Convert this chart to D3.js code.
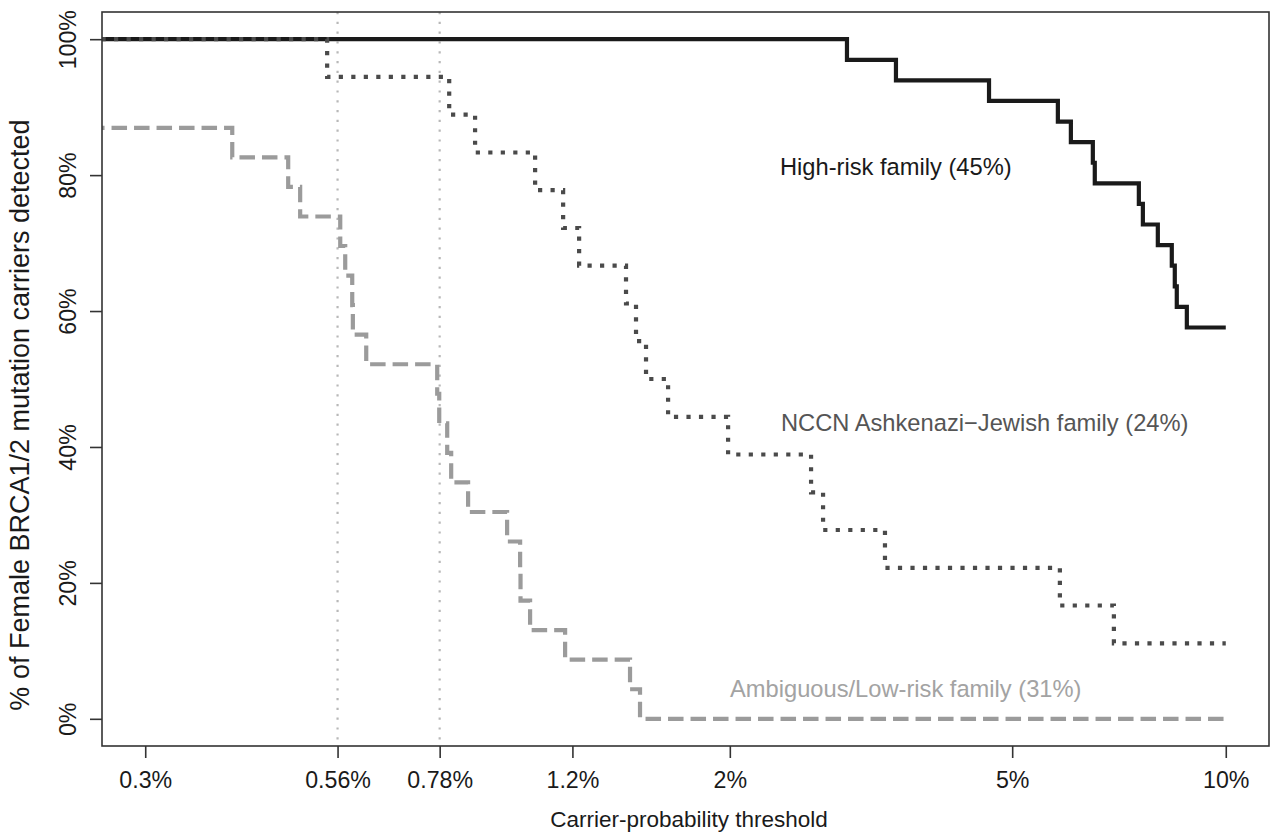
<!DOCTYPE html>
<html>
<head>
<meta charset="utf-8">
<script src="https://cdn.jsdelivr.net/npm/d3@7"></script>
<style>
  html, body { margin: 0; padding: 0; background: #fff; }
  svg { display: block; }
  text { font-family: "Liberation Sans", Arial, Helvetica, sans-serif; }
</style>
</head>
<body>
<svg id="chart" width="1271" height="839"></svg>
<script>
// ---------- data ----------
const xTicks = [0.3, 0.56, 0.78, 1.2, 2, 5, 10];
const xTickLabels = ["0.3%", "0.56%", "0.78%", "1.2%", "2%", "5%", "10%"];
const yTicks = [0, 20, 40, 60, 80, 100];
const yTickLabels = ["0%", "20%", "40%", "60%", "80%", "100%"];
const refLines = [0.56, 0.78];

// High-risk family (45%) : threshold (%) -> % detected
const highX = [0.25, 2.925, 3.429, 4.638, 5.799, 6.049, 6.496, 6.537, 7.542, 7.641, 8.021, 8.393, 8.475, 8.530, 8.813, 10];
const highY = [100, 96.97, 93.94, 90.91, 87.88, 84.85, 81.82, 78.79, 75.76, 72.73, 69.70, 66.67, 63.64, 60.61, 57.58, 57.58];

// NCCN Ashkenazi-Jewish family (24%)
const nccnX = [0.25, 0.5414, 0.8045, 0.8750, 1.0632, 1.1644, 1.2264, 1.4280, 1.4751, 1.5238, 1.6369, 1.9888, 2.6033, 2.7067, 3.3089, 5.837, 6.955, 10];
const nccnY = [100, 94.44, 88.89, 83.33, 77.78, 72.22, 66.67, 61.11, 55.56, 50.00, 44.44, 38.89, 33.33, 27.78, 22.22, 16.67, 11.11, 11.11];

// Ambiguous/Low-risk family (31%)
const ambX = [0.25, 0.3979, 0.4771, 0.4960, 0.5649, 0.5741, 0.5873, 0.5885, 0.6146, 0.7738, 0.7789, 0.7993, 0.8097, 0.8554, 0.9708, 1.0127, 1.0140, 1.0460, 1.1719, 1.4467, 1.4944, 10];
const ambY = [86.96, 82.61, 78.26, 73.91, 69.57, 65.22, 60.87, 56.52, 52.17, 47.83, 43.48, 39.13, 34.78, 30.43, 26.09, 21.74, 17.39, 13.04, 8.70, 4.35, 0, 0];

const seriesNames = ["High-risk family (45%)", "NCCN Ashkenazi\u2212Jewish family (24%)", "Ambiguous/Low-risk family (31%)"];

// ---------- layout ----------
const box = { left: 102, right: 1269, top: 12, bottom: 746 };
const padX = (box.right - box.left) / 1.08 * 0.04;
const padY = (box.bottom - box.top) / 1.08 * 0.04;
const FONT = "'Liberation Sans', Arial, Helvetica, sans-serif";

const svg = d3.select("#chart");

const x = d3.scaleLog()
  .domain([0.3, 10])
  .range([box.left + padX, box.right - padX]);
const y = d3.scaleLinear()
  .domain([0, 100])
  .range([box.bottom - padY, box.top + padY]);

svg.append("defs").append("clipPath").attr("id", "plotclip")
  .append("rect")
  .attr("x", box.left).attr("y", box.top)
  .attr("width", box.right - box.left).attr("height", box.bottom - box.top);

// reference vertical dotted lines
svg.append("g").selectAll("line").data(refLines).join("line")
  .attr("x1", d => x(d)).attr("x2", d => x(d))
  .attr("y1", box.top).attr("y2", box.bottom)
  .attr("stroke", "#b8b8b8")
  .attr("stroke-width", 2.2)
  .attr("stroke-dasharray", "2.2 7.6")
  .attr("stroke-linecap", "butt");

const line = d3.line()
  .x(d => x(d[0]))
  .y(d => y(d[1]))
  .curve(d3.curveStepAfter);

const series = [
  { xs: highX, ys: highY, color: "#1a1a1a", width: 4.2, dash: null },
  { xs: nccnX, ys: nccnY, color: "#4a4a4a", width: 4.2, dash: "4.2 8.3" },
  { xs: ambX, ys: ambY, color: "#9b9b9b", width: 4.2, dash: "15.5 7" }
];

const gLines = svg.append("g").attr("clip-path", "url(#plotclip)");
series.forEach(s => {
  const pts = s.xs.map((v, i) => [v, s.ys[i]]);
  gLines.append("path")
    .attr("d", line(pts))
    .attr("fill", "none")
    .attr("stroke", s.color)
    .attr("stroke-width", s.width)
    .attr("stroke-linejoin", "miter")
    .attr("stroke-dasharray", s.dash);
});

// box
svg.append("rect")
  .attr("x", box.left).attr("y", box.top)
  .attr("width", box.right - box.left).attr("height", box.bottom - box.top)
  .attr("fill", "none").attr("stroke", "#333").attr("stroke-width", 1.6);

// x axis
const xAxis = d3.axisBottom(x)
  .tickValues(xTicks)
  .tickFormat((d, i) => xTickLabels[i])
  .tickSize(12)
  .tickSizeOuter(0);
const gx = svg.append("g")
  .attr("transform", `translate(0,${box.bottom})`)
  .call(xAxis);
gx.select(".domain").remove();
gx.selectAll(".tick line").attr("stroke", "#333").attr("stroke-width", 1.6);
gx.selectAll(".tick text")
  .attr("y", 42).attr("dy", 0)
  .attr("font-size", 23.2)
  .attr("fill", "#1a1a1a")
  .style("font-family", FONT);

// y axis
const yAxis = d3.axisLeft(y)
  .tickValues(yTicks)
  .tickFormat((d, i) => yTickLabels[i])
  .tickSize(12)
  .tickSizeOuter(0);
const gy = svg.append("g")
  .attr("transform", `translate(${box.left},0)`)
  .call(yAxis);
gy.select(".domain").remove();
gy.selectAll(".tick line").attr("stroke", "#333").attr("stroke-width", 1.6);
gy.selectAll(".tick text")
  .attr("transform", "rotate(-90)")
  .attr("x", 0).attr("y", -26).attr("dy", 0)
  .attr("text-anchor", "middle")
  .attr("font-size", 23.2)
  .attr("fill", "#1a1a1a")
  .style("font-family", FONT);

// axis titles
svg.append("text")
  .attr("x", 689).attr("y", 827)
  .attr("text-anchor", "middle")
  .attr("font-size", 22.5).attr("fill", "#1a1a1a")
  .text("Carrier-probability threshold");

svg.append("text")
  .attr("transform", "translate(29,415) rotate(-90)")
  .attr("text-anchor", "middle")
  .attr("font-size", 27).attr("fill", "#1a1a1a")
  .text("% of Female BRCA1/2 mutation carriers detected");

// series labels
const labelPos = [
  { x: 780, y: 175, color: "#1a1a1a" },
  { x: 781, y: 431, color: "#555555" },
  { x: 730, y: 697, color: "#a3a3a3" }
];
svg.append("g").selectAll("text").data(seriesNames).join("text")
  .attr("x", (d, i) => labelPos[i].x)
  .attr("y", (d, i) => labelPos[i].y)
  .attr("font-size", 23.7)
  .attr("fill", (d, i) => labelPos[i].color)
  .text(d => d);
</script>
</body>
</html>
